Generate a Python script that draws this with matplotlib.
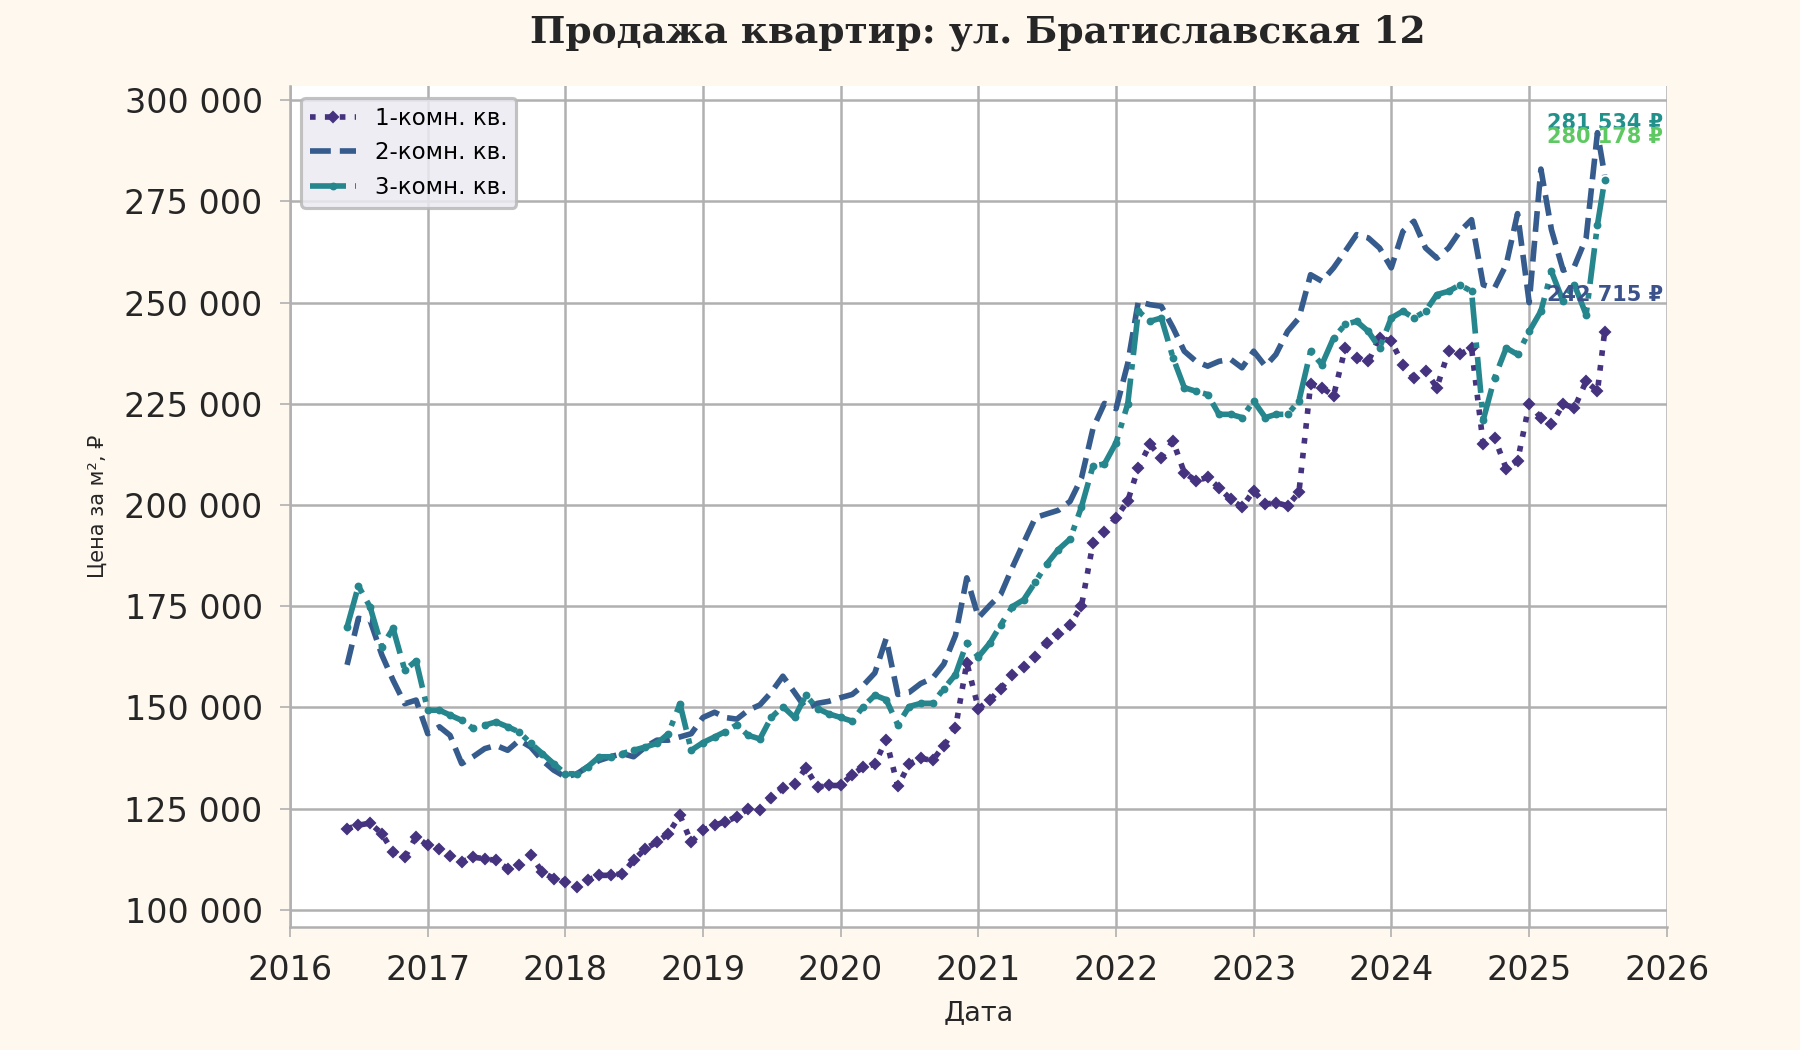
import numpy as np
import pandas as pd
import matplotlib
matplotlib.use("Agg")
import matplotlib.pyplot as plt
from matplotlib.ticker import FuncFormatter

# monthly points Jun 2016 .. Jul 2025, plus the last observation
dates = pd.date_range("2016-06-01", "2025-07-01", freq="MS").append(pd.DatetimeIndex(["2025-07-20"]))

# price per m2, thousands of rubles
room1 = [
    120.0, 120.9, 121.4, 118.8, 114.3, 113.0, 118.0,
    115.9, 115.1, 113.4, 111.8, 113.0, 112.6, 112.2, 110.1, 111.0, 113.5, 109.3, 107.7,
    106.9, 105.6, 107.3, 108.5, 108.5, 108.9, 112.2, 115.1, 116.7, 118.8, 123.3, 116.7,
    119.6, 120.9, 121.7, 123.0, 125.0, 124.6, 127.5, 130.0, 131.0, 135.0, 130.3, 130.7,
    130.7, 133.4, 135.2, 136.0, 142.0, 130.5, 136.0, 137.4, 136.9, 140.5, 144.9, 161.0,
    149.7, 151.9, 154.6, 158.1, 159.9, 162.5, 166.0, 168.2, 170.4, 175.0, 190.7, 193.4,
    196.9, 201.0, 209.2, 215.0, 211.7, 215.8, 208.0, 206.0, 206.8, 204.3, 201.4, 199.5,
    203.5, 200.2, 200.6, 199.8, 203.1, 229.8, 229.0, 227.0, 238.8, 236.4, 235.5, 241.3,
    240.5, 234.7, 231.4, 233.1, 229.0, 238.0, 237.2, 238.8, 215.0, 216.6, 209.0, 210.9,
    224.9, 221.6, 219.9, 224.9, 224.0, 230.6, 228.1, 242.715,
]
room2 = [
    160.5, 172.0, 171.5, 163.0, 156.7, 150.9, 151.8,
    143.5, 145.2, 143.1, 136.1, 137.8, 139.8, 140.6, 139.4, 141.9, 140.2, 136.9, 134.5,
    132.8, 133.6, 135.3, 136.9, 137.8, 138.6, 137.8, 140.2, 141.9, 141.9, 142.7, 143.5,
    147.5, 148.8, 147.5, 147.1, 149.3, 150.6, 153.7, 157.7, 153.7, 149.7, 151.0, 151.5,
    152.4, 153.2, 155.4, 158.5, 167.0, 153.2, 153.7, 155.9, 157.2, 160.7, 167.8, 182.0,
    172.2, 175.3, 177.9, 184.6, 190.7, 196.9, 197.8, 198.7, 200.9, 206.6, 219.0, 225.1,
    223.8, 235.0, 250.3, 249.5, 249.1, 243.8, 238.0, 235.5, 234.3, 235.5, 236.0, 233.9,
    238.0, 234.3, 237.2, 242.9, 246.2, 256.9, 255.3, 258.6, 262.7, 266.8, 266.0, 263.5,
    258.6, 267.6, 270.1, 263.5, 261.0, 263.5, 267.6, 270.5, 254.4, 253.6, 259.4, 272.0,
    250.0, 283.0, 268.0, 258.0, 259.0, 266.0, 292.0, 281.534,
]
room3 = [
    169.9, 180.0, 174.8, 165.0, 169.5, 159.2, 161.5,
    149.3, 149.3, 148.1, 146.8, 144.8, 145.6, 146.4, 145.2, 143.9, 141.1, 138.6, 136.1,
    133.6, 133.6, 135.3, 137.8, 137.8, 138.6, 139.4, 140.2, 141.1, 143.5, 150.9, 139.4,
    141.3, 142.7, 144.0, 145.7, 143.1, 142.2, 147.5, 150.2, 147.5, 153.0, 149.7, 148.4,
    147.5, 146.6, 150.2, 153.0, 151.9, 145.7, 150.2, 151.0, 151.0, 154.6, 158.1, 166.0,
    162.5, 166.0, 170.4, 174.9, 176.6, 181.0, 185.4, 189.0, 191.6, 199.5, 209.7, 210.1,
    215.4, 225.0, 247.9, 245.4, 246.2, 236.4, 229.0, 228.1, 227.3, 222.4, 222.4, 221.6,
    225.7, 221.6, 222.4, 222.4, 225.7, 238.0, 234.7, 241.3, 244.6, 245.4, 242.9, 238.8,
    246.2, 247.9, 246.2, 247.9, 252.0, 252.8, 254.4, 252.8, 221.0, 231.4, 238.8, 237.2,
    242.9, 247.9, 257.7, 250.3, 254.4, 247.0, 269.2, 280.178,
]

labels = ["1-комн. кв.", "2-комн. кв.", "3-комн. кв."]
line_colors = ["#46337f", "#365c8d", "#25868e"]
label_colors = ["#3b528b", "#21918c", "#5ec962"]
label_offsets = [18, 25, 21]
styles = [
    dict(linestyle=":", marker="D", markersize=3.5),
    dict(linestyle="--"),
    dict(linestyle="-.", marker=".", markersize=5.5),
]

fig, ax = plt.subplots(figsize=(12, 7), dpi=150, facecolor="#fff8ef")
fig.subplots_adjust(left=0.161, right=0.926, top=0.918, bottom=0.117)
ax.set_facecolor("white")

for vals, lab, col, st in zip([room1, room2, room3], labels, line_colors, styles):
    y = np.array(vals) * 1000
    ax.plot(dates, y, color=col, linewidth=2.7, label=lab, **st)

for vals, col, off in zip([room1, room2, room3], label_colors, label_offsets):
    last = vals[-1] * 1000
    txt = f"{last:,.0f}".replace(",", " ") + " ₽"
    ax.annotate(txt, (dates[-1], last), xytext=(0, off), textcoords="offset points",
                ha="center", va="center", fontsize=10, fontweight="bold", color=col)

ax.set_xlim(pd.Timestamp("2016-01-01"), pd.Timestamp("2026-01-01"))
ax.set_ylim(95700, 303500)
years = [pd.Timestamp(f"{y}-01-01") for y in range(2016, 2027)]
ax.set_xticks(years)
ax.set_xticklabels([str(y) for y in range(2016, 2027)])
ax.set_yticks(range(100000, 300001, 25000))
ax.yaxis.set_major_formatter(FuncFormatter(lambda v, p: f"{v:,.0f}".replace(",", " ")))

ax.grid(True, color="#b0b0b0", linewidth=1.2)
ax.set_axisbelow(True)
for s in ["top", "right"]:
    ax.spines[s].set_visible(False)
for s in ["left", "bottom"]:
    ax.spines[s].set_color("#b0b0b0")
    ax.spines[s].set_linewidth(1.2)
ax.tick_params(axis="both", labelsize=16, length=5, pad=8, color="#b0b0b0", labelcolor="#262626")

ax.set_title("Продажа квартир: ул. Братиславская 12", fontsize=18, fontweight="bold",
             family="DejaVu Serif", color="#262626", pad=21)
ax.set_xlabel("Дата", fontsize=13, color="#262626", labelpad=6)
ax.set_ylabel("Цена за м², ₽", fontsize=10, color="#262626", labelpad=8)

leg = ax.legend(loc="upper left", fontsize=11, borderaxespad=0.5, facecolor="#eaeaf2",
                edgecolor="#b8b8b8", framealpha=0.85)
leg.get_frame().set_linewidth(1.5)

fig.savefig("out.png", dpi=150, facecolor=fig.get_facecolor())
